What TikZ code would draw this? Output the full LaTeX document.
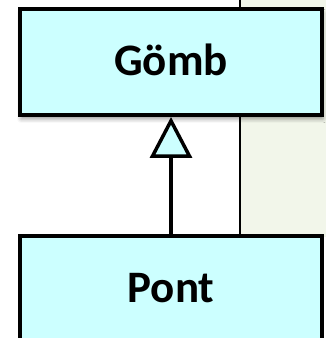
\documentclass[tikz,border=0pt]{standalone}
\usepackage{fontspec}
\setmainfont{Carlito}
\usetikzlibrary{positioning, arrows.meta, shadows.blur}
\definecolor{BoxCyan}{RGB}{204,255,255}
\definecolor{PanelGreen}{RGB}{242,246,234}

\begin{document}
\begin{tikzpicture}[x=1pt, y=1pt,
      box/.style={rectangle, draw=black, line width=4pt, fill=BoxCyan,
                  minimum width=302pt, minimum height=106pt,
                  font=\fontsize{45}{52}\selectfont\bfseries,
                  text height=28pt, text depth=0pt},
      arr/.style={-{Triangle[length=41pt, width=42pt, fill=BoxCyan]},
                  line width=3.5pt}
    ]
    \useasboundingbox (0,0) rectangle (325,338);

    %--- background panel ---
    \fill[PanelGreen] (240,101) rectangle (330,340);
    \draw[line width=2.8pt] (240,340) -- (240,101);

    %--- classes ---
    \node[box, blur shadow={shadow xshift=1pt, shadow yshift=-4pt,
          shadow blur radius=4pt}] (gomb) at (171,276) {Gömb};
    \node[box] (pont) at (171,49) {Pont};

    %--- generalisation ---
    \draw[arr] (pont.north) -- (gomb.south);
  \end{tikzpicture}
\end{document}
